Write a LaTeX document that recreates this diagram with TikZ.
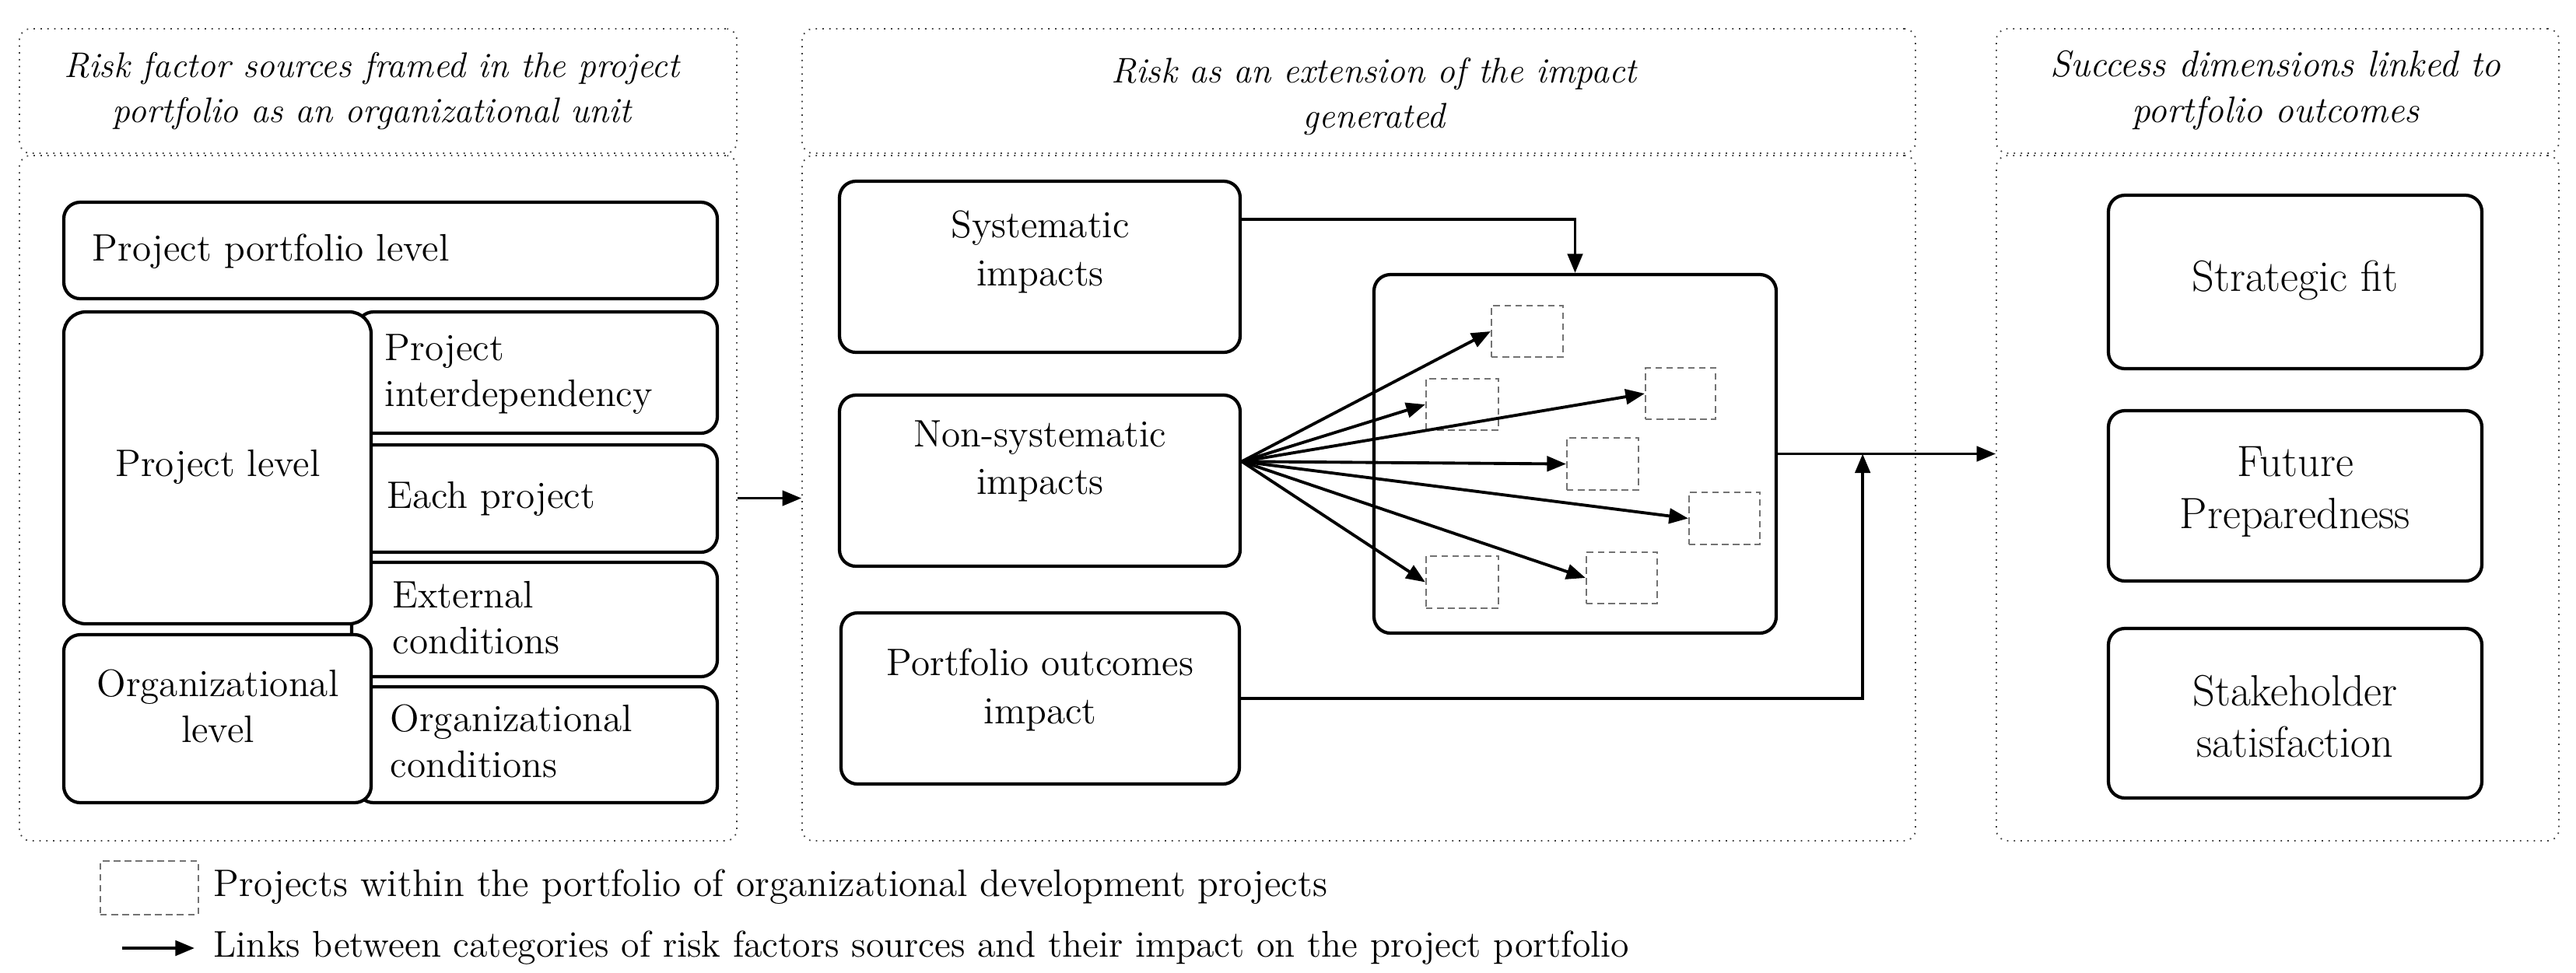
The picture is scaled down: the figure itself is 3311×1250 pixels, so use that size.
\documentclass[tikz,border=0pt]{standalone}
\usetikzlibrary{arrows.meta,fit,calc}
\newcommand\myfontH{\fontsize{13}{16.3}\selectfont}
\newcommand\myfontL{\fontsize{14}{16.8}\selectfont}
\newcommand\myfontM{\fontsize{14}{17.5}\selectfont}
\newcommand\myfontR{\fontsize{16}{19}\selectfont}
\begin{document}
\begin{tikzpicture}[x=0.01cm,y=-0.01cm,
  panel/.style={draw=black!75, line width=0.5pt, dotted, rounded corners=4pt, inner sep=0pt},
  box/.style={draw, line width=1.2pt, rounded corners=6pt, fill=white, inner sep=0pt},
  projbox/.style={draw=black!55, line width=0.6pt, dash pattern=on 2.4pt off 1.6pt, inner sep=0pt},
  arr/.style={line width=1.1pt, -{Triangle[length=7pt,width=5.5pt]}},
  txt/.style={align=center, inner sep=0pt},
  txtl/.style={align=left, inner sep=0pt, anchor=west},
  head/.style={align=center, inner sep=0pt, font=\myfontH\itshape}]
\useasboundingbox (0,0) rectangle (3311,1250);

% ---------- panels ----------
\node[panel, fit={(25,37)(947,197)}] (h1) {};
\node[panel, fit={(25,200)(947,1081)}] (b1) {};
\node[panel, fit={(1031,37)(2462,197)}] (h2) {};
\node[panel, fit={(1031,200)(2462,1081)}] (b2) {};
\node[panel, fit={(2566,37)(3289,197)}] (h3) {};
\node[panel, fit={(2566,200)(3289,1081)}] (b3) {};

\node[head] (th1) at (478,117) {Risk factor sources framed in the project\\portfolio as an organizational unit};
\node[head] (th2) at (1766,124) {Risk as an extension of the impact\\generated};
\node[head, font=\fontsize{13.5}{16.8}\selectfont\itshape] (th3) at (2925,116) {Success dimensions linked to\\portfolio outcomes};

% ---------- left panel ----------
\node[box, fit={(82,260)(922,384)}] (ppl) {};
\node[box, fit={(459,401)(922,557)}] (pi) {};
\node[box, fit={(459,572)(922,710)}] (ep) {};
\node[box, fit={(452,723)(922,870)}] (ec) {};
\node[box, fit={(459,883)(922,1032)}] (oc) {};
\node[box, rounded corners=8pt, fit={(82,401)(477,802)}] (pl) {};
\node[box, fit={(82,816)(477,1032)}] (ol) {};

\node[txtl, font=\myfontL] (t-ppl) at (118,323) {Project portfolio level};
\node[txt, font=\myfontL] (t-pl) at (280,600) {Project level};
\node[txtl, font=\myfontL] (t-pi) at (494,481) {Project\\interdependency};
\node[txtl, font=\myfontL] (t-ep) at (497,641) {Each project};
\node[txtl, font=\myfontL] (t-ec) at (504,794) {External\\conditions};
\node[txt, font=\myfontL] (t-ol) at (280,908) {Organizational\\level};
\node[txtl, font=\myfontL] (t-oc) at (501,953) {Organizational\\conditions};

% ---------- middle panel ----------
\node[box, fit={(1079,233)(1594,453)}] (sys) {};
\node[box, fit={(1079,508)(1594,728)}] (nsys) {};
\node[box, fit={(1081,788)(1593,1008)}] (port) {};
\node[box, fit={(1766,353)(2283,814)}] (inner) {};

\node[txt, font=\myfontM] (t-sys) at (1337,324) {Systematic\\impacts};
\node[txt, font=\myfontM] (t-nsys) at (1337,593) {Non-systematic\\impacts};
\node[txt, font=\myfontM] (t-port) at (1337,887) {Portfolio outcomes\\impact};

\node[projbox, fit={(1917,393)(2009,459)}] (p1) {};
\node[projbox, fit={(1833,487)(1926,553)}] (p2) {};
\node[projbox, fit={(2115,473)(2205,539)}] (p3) {};
\node[projbox, fit={(2014,563)(2106,630)}] (p4) {};
\node[projbox, fit={(2171,633)(2262,700)}] (p5) {};
\node[projbox, fit={(1833,715)(1926,782)}] (p6) {};
\node[projbox, fit={(2039,710)(2130,776)}] (p7) {};

% ---------- right panel ----------
\node[box, fit={(2710,251)(3190,474)}] (sf) {};
\node[box, fit={(2710,528)(3190,747)}] (fp) {};
\node[box, fit={(2710,808)(3190,1026)}] (sh) {};
\node[txt, font=\myfontR] (t-sf) at (2950,360) {Strategic fit};
\node[txt, font=\myfontR] (t-fp) at (2950,632) {Future\\Preparedness};
\node[txt, font=\myfontR] (t-sh) at (2950,921) {Stakeholder\\satisfaction};

% ---------- connectors ----------
\draw[arr] (b1.east) -- (b2.west);
\coordinate (sysout) at ($(sys.north east)!0.227!(sys.south east)$);
\draw[arr] (sysout) -| (inner.north);
\coordinate (nso) at ($(nsys.north east)!0.39!(nsys.south east)$);
\foreach \p in {p1,p2,p3,p4,p5,p6,p7}
  \draw[arr] (nso) -- (\p.west);
\draw[arr] (inner.east) -- (inner.east -| b3.west);
\coordinate (junc) at ($(inner.east)+(109,0)$);
\draw[arr] (port.east) -| (junc);

% ---------- legend ----------
\node[projbox, fit={(129,1107)(255,1176)}] (lg1) {};
\node[txtl, font=\myfontL] (lt1) at (274,1140) {Projects within the portfolio of organizational development projects};
\coordinate (la0) at (157,1219);
\coordinate (la1) at (250,1219);
\draw[arr] (la0) -- (la1);
\node[txtl, font=\fontsize{13.6}{16.5}\selectfont] (lt2) at (274,1219) {Links between categories of risk factors sources and their impact on the project portfolio};
\end{tikzpicture}
\end{document}
